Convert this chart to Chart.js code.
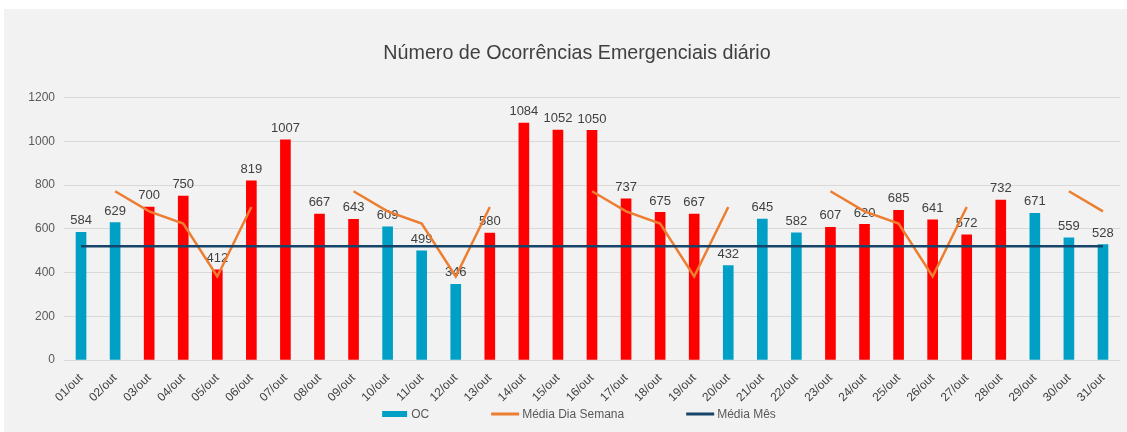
<!DOCTYPE html>
<html>
<head>
<meta charset="utf-8">
<script src="https://cdn.jsdelivr.net/npm/chart.js@4.4.1/dist/chart.umd.min.js"></script>
<style>
  html, body { margin: 0; padding: 0; background: #ffffff; overflow: hidden; width: 1127px; height: 432px; }
  #wrap { position: absolute; left: 4px; top: 9px; width: 1146px; height: 423px; background: #f2f2f2; }
</style>
</head>
<body>
<div id="wrap"><canvas id="c"></canvas></div>
<script>
const categories = ['01/out','02/out','03/out','04/out','05/out','06/out','07/out','08/out','09/out','10/out',
  '11/out','12/out','13/out','14/out','15/out','16/out','17/out','18/out','19/out','20/out',
  '21/out','22/out','23/out','24/out','25/out','26/out','27/out','28/out','29/out','30/out','31/out'];
const ocValues = [584, 629, 700, 750, 412, 819, 1007, 667, 643, 609,
  499, 346, 580, 1084, 1052, 1050, 737, 675, 667, 432,
  645, 582, 607, 620, 685, 641, 572, 732, 671, 559, 528];
const mediaDiaSemana = [null, 772, 680, 624, 382, 700, null, null, 772, 680,
  624, 382, 700, null, null, 772, 680, 624, 382, 700,
  null, null, 772, 680, 624, 382, 700, null, null, 772, 680];
const mediaMes = [520, 520, 520, 520, 520, 520, 520, 520, 520, 520,
  520, 520, 520, 520, 520, 520, 520, 520, 520, 520,
  520, 520, 520, 520, 520, 520, 520, 520, 520, 520, 520];
const dayGroup = ['b','b','r','r','r','r','r','r','r','b',
  'b','b','r','r','r','r','r','r','r','b',
  'b','b','r','r','r','r','r','r','b','b','b'];
const yTicks = [0, 200, 400, 600, 800, 1000, 1200];
const yTickLabels = ['0', '200', '400', '600', '800', '1000', '1200'];
const seriesNames = ['OC', 'Média Dia Semana', 'Média Mês'];

const TEAL = '#00a0c6', RED = '#ff0000', ORANGE = '#ed7d31', NAVY = '#17456a';
const FONT = '"Liberation Sans", Arial, sans-serif';

const barLabels = {
  id: 'barLabels',
  afterDatasetDraw(chart, args) {
    if (args.index !== 0) return;
    const ctx = chart.ctx;
    ctx.save();
    ctx.font = '13px ' + FONT;
    ctx.fillStyle = '#404040';
    ctx.textAlign = 'center';
    ctx.textBaseline = 'bottom';
    args.meta.data.forEach((el, i) => {
      ctx.fillText(String(chart.data.datasets[0].data[i]), el.x, el.y - 5);
    });
    ctx.restore();
  }
};

const customLegend = {
  id: 'customLegend',
  afterDraw(chart) {
    const ctx = chart.ctx;
    ctx.save();
    ctx.font = '12px ' + FONT;
    ctx.textBaseline = 'middle';
    ctx.textAlign = 'left';
    const ds = chart.data.datasets;
    const boxW = [25, 28, 28];
    const gapText = [4, 3, 3];
    const itemGap = 62;
    const widths = ds.map((d, i) => boxW[i] + gapText[i] + ctx.measureText(d.label).width);
    const total = widths.reduce((a, b) => a + b, 0) + itemGap * (ds.length - 1);
    let x = chart.width / 2 - total / 2 + 2;
    const y = 405;
    ds.forEach((d, i) => {
      if (d.type === 'bar') {
        ctx.fillStyle = TEAL;
        ctx.fillRect(x, y - 3, boxW[i], 6);
      } else {
        ctx.strokeStyle = d.borderColor;
        ctx.lineWidth = 3;
        ctx.beginPath();
        ctx.moveTo(x, y);
        ctx.lineTo(x + boxW[i], y);
        ctx.stroke();
      }
      ctx.fillStyle = '#595959';
      ctx.fillText(d.label, x + boxW[i] + gapText[i], y + 0.5);
      x += widths[i] + itemGap;
    });
    ctx.restore();
  }
};

new Chart(document.getElementById('c'), {
  data: {
    labels: categories,
    datasets: [
      {
        type: 'bar',
        label: seriesNames[0],
        data: ocValues,
        backgroundColor: dayGroup.map(g => g === 'b' ? TEAL : RED),
        barThickness: 10,
        order: 3
      },
      {
        type: 'line',
        label: seriesNames[1],
        data: mediaDiaSemana,
        borderColor: ORANGE,
        backgroundColor: ORANGE,
        borderWidth: 2.5,
        pointRadius: 0,
        spanGaps: false,
        tension: 0,
        order: 2
      },
      {
        type: 'line',
        label: seriesNames[2],
        data: mediaMes,
        borderColor: NAVY,
        backgroundColor: NAVY,
        borderWidth: 2.5,
        pointRadius: 0,
        tension: 0,
        order: 1
      }
    ]
  },
  options: {
    responsive: true,
    maintainAspectRatio: false,
    animation: false,
    layout: { padding: { left: 4, right: 4, top: 0, bottom: 30 } },
    plugins: {
      legend: { display: false },
      tooltip: { enabled: false },
      title: {
        display: true,
        text: 'Número de Ocorrências Emergenciais diário',
        color: '#404040',
        font: { size: 19.7, family: FONT, weight: 'normal' },
        padding: { top: 33, bottom: 32 }
      }
    },
    scales: {
      x: {
        grid: { display: false },
        border: { display: false },
        ticks: {
          color: '#404040',
          font: { size: 12, family: FONT },
          maxRotation: 45, minRotation: 45, autoSkip: false, padding: 3
        },
        afterFit(s) { s.height = 42; }
      },
      y: {
        min: 0, max: 1200,
        afterBuildTicks(s) { s.ticks = yTicks.map(v => ({ value: v })); },
        grid: { color: '#d9d9d9', drawTicks: false, lineWidth: 1 },
        border: { display: false },
        ticks: {
          color: '#595959',
          font: { size: 12, family: FONT },
          padding: 9,
          callback(value) { return yTickLabels[yTicks.indexOf(value)]; }
        },
        afterFit(s) { s.width = 56; }
      },
      yRightSpace: {
        position: 'right',
        min: 0, max: 1200,
        grid: { display: false },
        border: { display: false },
        ticks: { display: false },
        afterFit(s) { s.width = 26; }
      }
    }
  },
  plugins: [barLabels, customLegend]
});
</script>
</body>
</html>
